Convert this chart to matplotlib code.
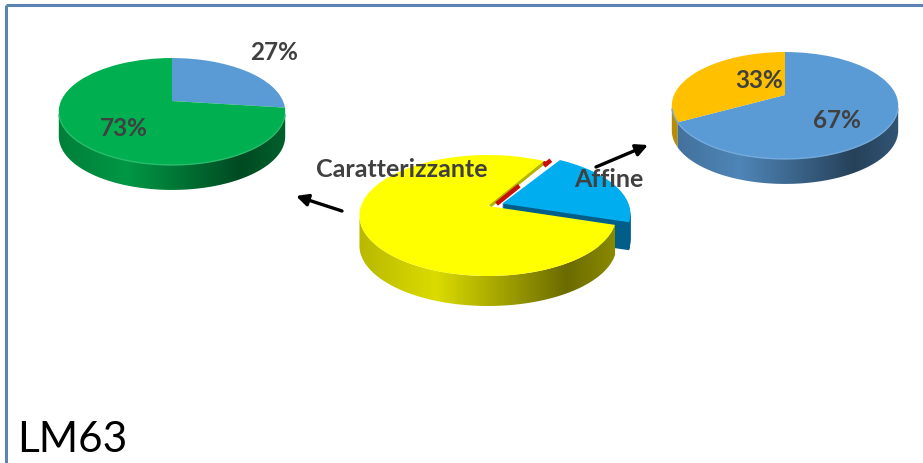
import numpy as np
import matplotlib
matplotlib.use("Agg")
import matplotlib.pyplot as plt
from matplotlib.transforms import Transform
from matplotlib.patches import Polygon
from matplotlib.colors import to_rgb

# ---- data ----
left_values = [27, 73]
left_colors = ["#5B9BD5", "#00B050"]
left_labels = ["27%", "73%"]
right_values = [67, 33]
right_colors = ["#5B9BD5", "#FFC000"]
right_labels = ["67%", "33%"]
center_values = [78.4, 21.0, 0.6]
center_colors = ["#FFFF00", "#00AEEF", "#C00000"]
center_labels = ["Caratterizzante", "Affine"]
title_text = "LM63"

W, H = 923, 464
plt.rcParams["font.family"] = ["Lato", "DejaVu Sans"]
fig = plt.figure(figsize=(W / 100, H / 100), dpi=100, facecolor="white")
ax = fig.add_axes([0, 0, 1, 1])


class Persp(Transform):
    """Tilted-disc projection from pie units to pixel coordinates."""
    input_dims = 2
    output_dims = 2
    has_inverse = False
    is_separable = False

    def __init__(self, cx, cy, R, s, k, shift=0):
        super().__init__()
        self.p = (cx, cy, R, s, k, shift)

    def transform_non_affine(self, xy):
        cx, cy, R, s, k, shift = self.p
        xy = np.asarray(xy, float)
        w = 1 + k * xy[:, 1]
        return np.column_stack([cx + R * xy[:, 0] / w, cy - s * xy[:, 1] / w + shift])


def top(values, colors, P, start, clockwise, z, explode=None):
    wedges, _ = ax.pie(values, colors=colors, startangle=start, counterclock=not clockwise,
                       explode=explode, wedgeprops={"linewidth": 0})
    for w in wedges:
        w.set_transform(P + ax.transData)
        w.set_zorder(z)
    return wedges


SHADE = [0.72, 0.86, 0.42, 0.55]
SHADE_T = [0, 0.3, 0.8, 1]


def side(P, theta1, theta2, depth, color, z):
    """Shaded outer wall of a disc between two angles (deg)."""
    cx, cy, R, s, k, _ = P.p
    th = np.radians(np.linspace(theta1, theta2, 120))
    upper = P.transform_non_affine(np.column_stack([np.cos(th), np.sin(th)]))
    lower = upper[::-1] + [0, depth]
    clip = Polygon(np.vstack([upper, lower]), closed=True, transform=ax.transData)
    t = np.linspace(0, 1, 256)
    f = np.interp(t, SHADE_T, SHADE)
    img = np.outer(f, to_rgb(color))[None, :, :]
    x0, x1 = cx - R * 1.03, cx + R * 1.03
    y0, y1 = cy - s * 1.3, cy + s * 1.5 + depth
    im = ax.imshow(img, extent=(x0, x1, y1, y0), aspect="auto", zorder=z, interpolation="bilinear")
    im.set_clip_path(clip)


def rim(P, color, z):
    th = np.radians(np.linspace(195, 345, 100))
    pts = P.transform_non_affine(np.column_stack([np.cos(th), np.sin(th)]))
    rgb = np.array(to_rgb(color))
    ax.plot(pts[:, 0], pts[:, 1], color=rgb + (1 - rgb) * 0.15, lw=1.0, zorder=z, solid_capstyle="round")


# ---- left pie ----
PL = Persp(172, 102, 111, 51.4, 0.196)
side(PL, 191, 349, 25, left_colors[1], 2)
top(left_values, left_colors, PL, 90, True, 3)
rim(PL, left_colors[1], 3.5)

# ---- right pie ----
PR = Persp(785, 96, 111, 51.4, 0.196)
side(PR, 191, 208.8, 25, right_colors[1], 2)
side(PR, 208.8, 349, 25, right_colors[0], 2)
top(right_values, right_colors, PR, 90, True, 3)
rim(PR, right_colors[0], 3.5)

# ---- centre pie ----
PC = Persp(488, 207, 127, 59, 0.157)
explode = [0, 0.12, 0]
CUT = 60
# blue exploded slice: stacked wall then face
for d in range(28, 0, -1):
    ws = top(center_values, ["none", "#005E88", "none"], Persp(488, 207, 127, 59, 0.157, d), CUT, False, 2, explode)
    ws[0].set_visible(False)
    ws[2].set_visible(False)
ws = top(center_values, center_colors, PC, CUT, False, 3, explode)
ws[0].set_visible(False)
# thin olive cut wall of the yellow slice and the red strip beside it
a = np.radians(CUT)
u = np.array([np.cos(a), np.sin(a)])
wall = PC.transform_non_affine(np.array([[0, 0], u * 0.95]))
ax.plot(wall[:, 0] + 2, wall[:, 1], color="#B4B400", lw=2.5, zorder=3.2, solid_capstyle="butt")
for r0, r1 in [(0.04, 0.42), (0.88, 1.02)]:
    seg = PC.transform_non_affine(np.array([u * r0, u * r1]))
    ax.plot(seg[:, 0] + 6, seg[:, 1], color="#C8100A", lw=3.2, zorder=3.3, solid_capstyle="butt")
side(PC, 191, 342.2, 30, center_colors[0], 4)
ws = top(center_values, center_colors, PC, CUT, False, 5, explode)
ws[1].set_visible(False)
ws[2].set_visible(False)

# ---- frame ----
ax.plot([6, 6], [H, 6], color="#5B84B4", lw=2.2, zorder=1, solid_capstyle="butt")
ax.plot([6, W], [6, 6], color="#5B84B4", lw=2.2, zorder=1, solid_capstyle="butt")

# ---- arrows ----
for start, end in [((342, 212), (296, 197)), ((596, 168), (648, 146))]:
    ax.annotate("", xy=end, xytext=start, zorder=8,
                arrowprops=dict(arrowstyle="-|>,head_length=0.7,head_width=0.35", color="black", lw=2.4,
                                shrinkA=0, shrinkB=0))

# ---- text ----
tkw = dict(color="#404040", fontweight="bold", ha="center", va="center", zorder=9)
ax.text(274, 53, left_labels[0], fontsize=17.5, **tkw)
ax.text(124, 129, left_labels[1], fontsize=17.5, **tkw)
ax.text(837, 120, right_labels[0], fontsize=17.5, **tkw)
ax.text(759, 81, right_labels[1], fontsize=17.5, **tkw)
ax.text(402, 170, center_labels[0], fontsize=18, **tkw)
ax.text(609, 180, center_labels[1], fontsize=18, **tkw)
ax.text(17, 440, title_text, color="black", fontsize=30.5, ha="left", va="center", zorder=9)

ax.set_aspect("auto")
ax.set_xlim(0, W)
ax.set_ylim(H, 0)
ax.axis("off")
fig.savefig("out.png", dpi=100, facecolor="white")
